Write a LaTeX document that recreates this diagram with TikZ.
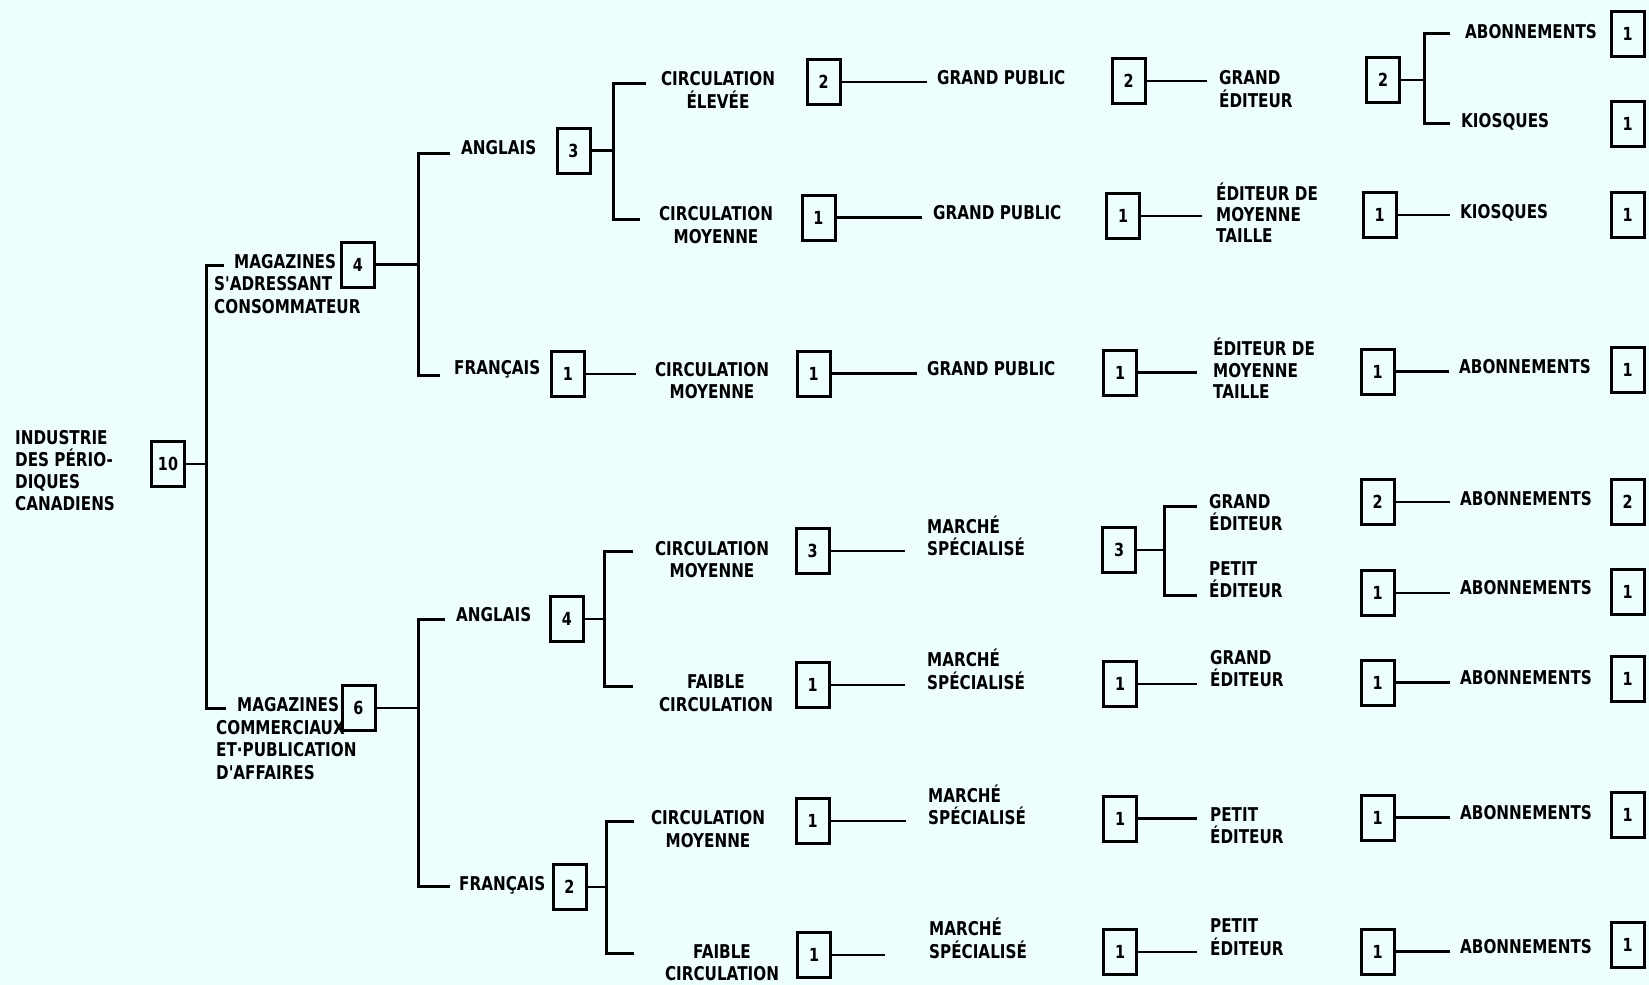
\documentclass[tikz,border=0pt]{standalone}
\usepackage{fontspec}
\newfontfamily\tf[FakeStretch=0.8]{DejaVu Sans}
\definecolor{bg}{RGB}{238,254,254}
\begin{document}
\begin{tikzpicture}[x=1pt,y=-1pt,
  nb/.style={draw, line width=3pt, minimum width=33pt, minimum height=45pt, inner sep=0pt,
    font=\tf\bfseries\fontsize{18}{18}\selectfont},
  tx/.style={inner sep=0pt, font=\tf\bfseries\fontsize{19}{22.5}\selectfont, align=left, anchor=west},
  tx1/.style={tx, text height=13.8pt, text depth=0pt},
  tc/.style={tx, align=center, anchor=center},
  ln/.style={line width=2.2pt},
  br/.style={line width=3pt}]
\useasboundingbox (0,0) rectangle (1649,985);
\fill[bg] (0,0) rectangle (1649,985);

% ---------- root ----------
\node[tx, font=\tf\bfseries\fontsize{19}{22}\selectfont] (tR) at (15,471) {INDUSTRIE\\DES PÉRIO-\\DIQUES\\CANADIENS};
\node[nb] (bR) at (168,464) {10};
\coordinate (jR) at (206,464);
\coordinate (sRa) at (224,265);
\coordinate (sRb) at (226,708);

% ---------- level 1 ----------
\node[tx] (tA) at (214,284) {\hspace*{20pt}MAGAZINES\\S'ADRESSANT\\CONSOMMATEUR};
\node[nb] (bA) at (358,264.5) {4};
\node[tx] (tB) at (216,738.5) {\hspace*{21pt}MAGAZINES\\COMMERCIAUX\\ET·PUBLICATION\\D'AFFAIRES};
\node[nb] (bB) at (358.5,708) {6};
\coordinate (jA) at (418,265);
\coordinate (sAa) at (450,153);
\coordinate (sAb) at (440,375);
\coordinate (jB) at (418,708);
\coordinate (sBa) at (445,619);
\coordinate (sBb) at (450,886);

% ---------- level 2 ----------
\node[tx1] (tA1) at (461,148) {ANGLAIS};
\node[nb] (bA1) at (573.5,150.5) {3};
\node[tx1] (tA2) at (454,368) {FRANÇAIS};
\node[nb] (bA2) at (568,374) {1};
\node[tx1] (tB1) at (456,615) {ANGLAIS};
\node[nb] (bB1) at (567,619) {4};
\node[tx1] (tB2) at (459,884) {FRANÇAIS};
\node[nb] (bB2) at (569.5,887) {2};
\coordinate (jA1) at (613,151);
\coordinate (sA1a) at (646,83);
\coordinate (sA1b) at (640,219);
\coordinate (eA2) at (636,374);
\coordinate (jB1) at (604,619);
\coordinate (sB1a) at (633,551);
\coordinate (sB1b) at (633,686);
\coordinate (jB2) at (606,887);
\coordinate (sB2a) at (634,821);
\coordinate (sB2b) at (634,953);

% ---------- level 3 ----------
\node[tc] (tA1a) at (718,90) {CIRCULATION\\ÉLEVÉE};
\node[nb] (bA1a) at (823.5,82) {2};
\node[tx1] (gA1a) at (937,78) {GRAND PUBLIC};
\coordinate (eA1a) at (927,82);

\node[tc] (tA1b) at (716,225) {CIRCULATION\\MOYENNE};
\node[nb] (bA1b) at (818.5,217.5) {1};
\node[tx1] (gA1b) at (933,213) {GRAND PUBLIC};
\coordinate (eA1b) at (922,217.5);

\node[tc] (tA2a) at (712,380.5) {CIRCULATION\\MOYENNE};
\node[nb] (bA2a) at (813.5,373.5) {1};
\node[tx1] (gA2a) at (927,369) {GRAND PUBLIC};
\coordinate (eA2a) at (917,373.5);

\node[tc] (tB1a) at (712,559.5) {CIRCULATION\\MOYENNE};
\node[nb] (bB1a) at (812.5,551) {3};
\node[tx] (gB1a) at (927,536) {MARCHÉ\\SPÉCIALISÉ};
\coordinate (eB1a) at (905,551);

\node[tc] (tB1b) at (716,693) {FAIBLE\\CIRCULATION};
\node[nb] (bB1b) at (812.5,685) {1};
\node[tx] (gB1b) at (927,669.5) {MARCHÉ\\SPÉCIALISÉ};
\coordinate (eB1b) at (905,685);

\node[tc] (tB2a) at (708,829) {CIRCULATION\\MOYENNE};
\node[nb] (bB2a) at (812.5,821) {1};
\node[tx] (gB2a) at (928,805) {MARCHÉ\\SPÉCIALISÉ};
\coordinate (eB2a) at (906,821);

\node[tc] (tB2b) at (722,962.5) {FAIBLE\\CIRCULATION};
\node[nb] (bB2b) at (814,955) {1};
\node[tx] (gB2b) at (929,938.5) {MARCHÉ\\SPÉCIALISÉ};
\coordinate (eB2b) at (885,955);

% ---------- level 4 ----------
\node[nb] (cA1a) at (1128.5,81) {2};
\node[tx] (dA1a) at (1219,89) {GRAND\\ÉDITEUR};
\coordinate (fA1a) at (1207,81);

\node[nb] (cA1b) at (1123,216) {1};
\node[tx, font=\tf\bfseries\fontsize{19}{21}\selectfont] (dA1b) at (1216,212.5) {ÉDITEUR DE\\MOYENNE\\TAILLE};
\coordinate (fA1b) at (1202,216);

\node[nb] (cA2a) at (1120,372.5) {1};
\node[tx, font=\tf\bfseries\fontsize{19}{21.5}\selectfont] (dA2a) at (1213,368.5) {ÉDITEUR DE\\MOYENNE\\TAILLE};
\coordinate (fA2a) at (1197,372.5);

\node[nb] (cB1a) at (1119,550) {3};
\node[tx] (dB1a) at (1209,512.5) {GRAND\\ÉDITEUR};
\node[tx] (dB1c) at (1209,579.5) {PETIT\\ÉDITEUR};
\coordinate (jC) at (1164,550);
\coordinate (sCa) at (1197,506);
\coordinate (sCb) at (1197,595);

\node[nb] (cB1b) at (1120,684) {1};
\node[tx] (dB1b) at (1210,668.5) {GRAND\\ÉDITEUR};
\coordinate (fB1b) at (1197,684);

\node[nb] (cB2a) at (1120,818.5) {1};
\node[tx] (dB2a) at (1210,825.5) {PETIT\\ÉDITEUR};
\coordinate (fB2a) at (1197,818.5);

\node[nb] (cB2b) at (1120,952) {1};
\node[tx] (dB2b) at (1210,937) {PETIT\\ÉDITEUR};
\coordinate (fB2b) at (1197,952);

% ---------- level 5 ----------
\node[nb] (kA1a) at (1383,80) {2};
\node[tx1] (mA1a) at (1465,32) {ABONNEMENTS};
\node[tx1] (mA1c) at (1461,121) {KIOSQUES};
\coordinate (jK) at (1424,80);
\coordinate (sKa) at (1450,33);
\coordinate (sKb) at (1450,123);

\node[nb] (kA1b) at (1379.5,215) {1};
\node[tx1] (mA1b) at (1460,212) {KIOSQUES};
\coordinate (gK1) at (1450,215);

\node[nb] (kA2a) at (1377.5,371.5) {1};
\node[tx1] (mA2a) at (1459,367) {ABONNEMENTS};
\coordinate (gK2) at (1449,371.5);

\node[nb] (kB1a) at (1377.5,502) {2};
\node[tx1] (mB1a) at (1460,499) {ABONNEMENTS};
\coordinate (gK3) at (1450,502);

\node[nb] (kB1c) at (1377.5,593) {1};
\node[tx1] (mB1c) at (1460,588) {ABONNEMENTS};
\coordinate (gK4) at (1450,593);

\node[nb] (kB1b) at (1377.5,682.5) {1};
\node[tx1] (mB1b) at (1460,678) {ABONNEMENTS};
\coordinate (gK5) at (1450,682.5);

\node[nb] (kB2a) at (1377.5,817.5) {1};
\node[tx1] (mB2a) at (1460,813) {ABONNEMENTS};
\coordinate (gK6) at (1450,817.5);

\node[nb] (kB2b) at (1377.5,951.5) {1};
\node[tx1] (mB2b) at (1460,947) {ABONNEMENTS};
\coordinate (gK7) at (1450,951.5);

% ---------- level 6 ----------
\node[nb] (z1) at (1627.5,34) {1};
\node[nb] (z2) at (1627.5,123.5) {1};
\node[nb] (z3) at (1627.5,214.5) {1};
\node[nb] (z4) at (1627.5,369.5) {1};
\node[nb] (z5) at (1627.5,501.5) {2};
\node[nb] (z6) at (1627.5,591.5) {1};
\node[nb] (z7) at (1627.5,678.5) {1};
\node[nb] (z8) at (1627.5,815) {1};
\node[nb] (z9) at (1627.5,945) {1};

% ---------- connectors ----------
\draw[ln] (bR.east) -- (bR.east -| jR);
\draw[br] (sRa) -| (jR) |- (sRb);

\draw[ln] (bA.east) -- (bA.east -| jA);
\draw[br] (sAa) -| (jA) |- (sAb);
\draw[ln] (bB.east) -- (bB.east -| jB);
\draw[br] (sBa) -| (jB) |- (sBb);

\draw[ln] (bA1.east) -- (bA1.east -| jA1);
\draw[br] (sA1a) -| (jA1) |- (sA1b);
\draw[ln] (bA2.east) -- (bA2.east -| eA2);
\draw[ln] (bB1.east) -- (bB1.east -| jB1);
\draw[br] (sB1a) -| (jB1) |- (sB1b);
\draw[ln] (bB2.east) -- (bB2.east -| jB2);
\draw[br] (sB2a) -| (jB2) |- (sB2b);

\draw[ln] (bA1a.east) -- (bA1a.east -| eA1a);
\draw[ln] (bA1b.east) -- (bA1b.east -| eA1b);
\draw[ln] (bA2a.east) -- (bA2a.east -| eA2a);
\draw[ln] (bB1a.east) -- (bB1a.east -| eB1a);
\draw[ln] (bB1b.east) -- (bB1b.east -| eB1b);
\draw[ln] (bB2a.east) -- (bB2a.east -| eB2a);
\draw[ln] (bB2b.east) -- (bB2b.east -| eB2b);

\draw[ln] (cA1a.east) -- (cA1a.east -| fA1a);
\draw[ln] (cA1b.east) -- (cA1b.east -| fA1b);
\draw[ln] (cA2a.east) -- (cA2a.east -| fA2a);
\draw[ln] (cB1a.east) -- (cB1a.east -| jC);
\draw[br] (sCa) -| (jC) |- (sCb);
\draw[ln] (cB1b.east) -- (cB1b.east -| fB1b);
\draw[ln] (cB2a.east) -- (cB2a.east -| fB2a);
\draw[ln] (cB2b.east) -- (cB2b.east -| fB2b);

\draw[ln] (kA1a.east) -- (kA1a.east -| jK);
\draw[br] (sKa) -| (jK) |- (sKb);
\draw[ln] (kA1b.east) -- (kA1b.east -| gK1);
\draw[ln] (kA2a.east) -- (kA2a.east -| gK2);
\draw[ln] (kB1a.east) -- (kB1a.east -| gK3);
\draw[ln] (kB1c.east) -- (kB1c.east -| gK4);
\draw[ln] (kB1b.east) -- (kB1b.east -| gK5);
\draw[ln] (kB2a.east) -- (kB2a.east -| gK6);
\draw[ln] (kB2b.east) -- (kB2b.east -| gK7);
\end{tikzpicture}
\end{document}
